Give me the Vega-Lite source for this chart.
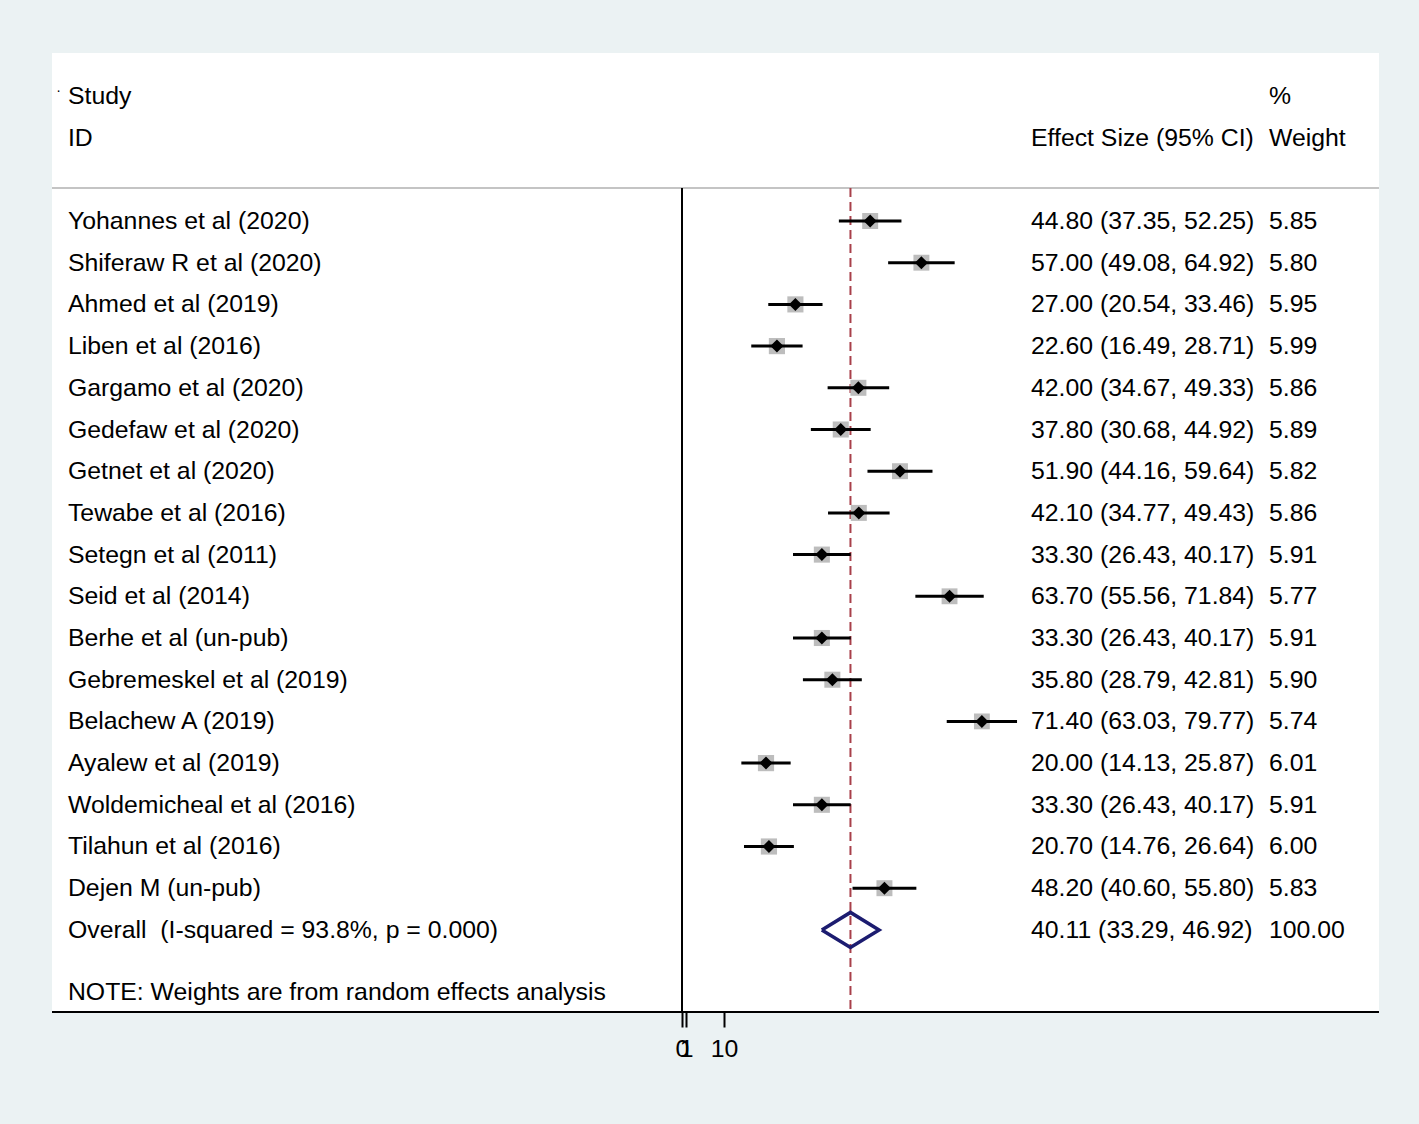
{
  "$schema": "https://vega.github.io/schema/vega-lite/v6.json",
  "width": 1419,
  "height": 1124,
  "autosize": {"type": "fit", "contains": "padding"},
  "padding": 0,
  "background": "#ebf2f3",
  "view": {"stroke": null},
  "config": {"text": {"font": "Liberation Sans", "fontSize": 24.8, "color": "#000000", "baseline": "middle", "align": "left", "dy": 1}},
  "datasets": {
    "studies": [
      {"row": 1, "study": "Yohannes et al (2020)", "es": 44.80, "lo": 37.35, "hi": 52.25, "weight": 5.85, "es_text": "44.80 (37.35, 52.25)", "w_text": "5.85"},
      {"row": 2, "study": "Shiferaw R et al (2020)", "es": 57.00, "lo": 49.08, "hi": 64.92, "weight": 5.80, "es_text": "57.00 (49.08, 64.92)", "w_text": "5.80"},
      {"row": 3, "study": "Ahmed et al (2019)", "es": 27.00, "lo": 20.54, "hi": 33.46, "weight": 5.95, "es_text": "27.00 (20.54, 33.46)", "w_text": "5.95"},
      {"row": 4, "study": "Liben et al (2016)", "es": 22.60, "lo": 16.49, "hi": 28.71, "weight": 5.99, "es_text": "22.60 (16.49, 28.71)", "w_text": "5.99"},
      {"row": 5, "study": "Gargamo et al (2020)", "es": 42.00, "lo": 34.67, "hi": 49.33, "weight": 5.86, "es_text": "42.00 (34.67, 49.33)", "w_text": "5.86"},
      {"row": 6, "study": "Gedefaw et al (2020)", "es": 37.80, "lo": 30.68, "hi": 44.92, "weight": 5.89, "es_text": "37.80 (30.68, 44.92)", "w_text": "5.89"},
      {"row": 7, "study": "Getnet et al (2020)", "es": 51.90, "lo": 44.16, "hi": 59.64, "weight": 5.82, "es_text": "51.90 (44.16, 59.64)", "w_text": "5.82"},
      {"row": 8, "study": "Tewabe et al (2016)", "es": 42.10, "lo": 34.77, "hi": 49.43, "weight": 5.86, "es_text": "42.10 (34.77, 49.43)", "w_text": "5.86"},
      {"row": 9, "study": "Setegn et al (2011)", "es": 33.30, "lo": 26.43, "hi": 40.17, "weight": 5.91, "es_text": "33.30 (26.43, 40.17)", "w_text": "5.91"},
      {"row": 10, "study": "Seid et al (2014)", "es": 63.70, "lo": 55.56, "hi": 71.84, "weight": 5.77, "es_text": "63.70 (55.56, 71.84)", "w_text": "5.77"},
      {"row": 11, "study": "Berhe et al (un-pub)", "es": 33.30, "lo": 26.43, "hi": 40.17, "weight": 5.91, "es_text": "33.30 (26.43, 40.17)", "w_text": "5.91"},
      {"row": 12, "study": "Gebremeskel et al (2019)", "es": 35.80, "lo": 28.79, "hi": 42.81, "weight": 5.90, "es_text": "35.80 (28.79, 42.81)", "w_text": "5.90"},
      {"row": 13, "study": "Belachew A (2019)", "es": 71.40, "lo": 63.03, "hi": 79.77, "weight": 5.74, "es_text": "71.40 (63.03, 79.77)", "w_text": "5.74"},
      {"row": 14, "study": "Ayalew et al (2019)", "es": 20.00, "lo": 14.13, "hi": 25.87, "weight": 6.01, "es_text": "20.00 (14.13, 25.87)", "w_text": "6.01"},
      {"row": 15, "study": "Woldemicheal et al (2016)", "es": 33.30, "lo": 26.43, "hi": 40.17, "weight": 5.91, "es_text": "33.30 (26.43, 40.17)", "w_text": "5.91"},
      {"row": 16, "study": "Tilahun et al (2016)", "es": 20.70, "lo": 14.76, "hi": 26.64, "weight": 6.00, "es_text": "20.70 (14.76, 26.64)", "w_text": "6.00"},
      {"row": 17, "study": "Dejen M (un-pub)", "es": 48.20, "lo": 40.60, "hi": 55.80, "weight": 5.83, "es_text": "48.20 (40.60, 55.80)", "w_text": "5.83"},
      {"row": 18, "study": "Overall\u00a0 (I-squared = 93.8%, p = 0.000)", "es_text": "40.11 (33.29, 46.92)", "w_text": "100.00"}
    ],
    "diamond": [
      {"x": 33.29, "y": 18, "o": 1},
      {"x": 40.11, "y": 17.58, "o": 2},
      {"x": 46.92, "y": 18, "o": 3},
      {"x": 40.11, "y": 18.42, "o": 4},
      {"x": 33.29, "y": 18, "o": 5}
    ],
    "headers": [
      {"col": -146.2, "row": -2, "label": "Study"},
      {"col": -146.2, "row": -1, "label": "ID"},
      {"col": 83.1, "row": -1, "label": "Effect Size (95% CI)"},
      {"col": 139.76, "row": -2, "label": "%"},
      {"col": 139.76, "row": -1, "label": "Weight"},
      {"col": -146.2, "row": 19.49, "label": "NOTE: Weights are from random effects analysis"}
    ]
  },
  "layer": [
    {
      "data": {"values": [{}]},
      "mark": {"type": "rect", "color": "#ffffff"},
      "encoding": {
        "x": {"datum": -150, "type": "quantitative",
              "scale": {"domain": [-162.381, 175.476], "nice": false, "zero": false},
              "axis": {"orient": "bottom", "offset": -112, "values": [0, 1, 10], "tickSize": 15, "tickWidth": 2, "tickColor": "#000000", "domain": false, "grid": false, "labelFontSize": 24.8, "labelFont": "Liberation Sans", "labelColor": "#000000", "labelPadding": 9, "title": null, "labelOverlap": false, "labelFlush": false}},
        "x2": {"datum": 165.95},
        "y": {"datum": -3.03, "type": "quantitative",
              "scale": {"domain": [-4.2998, 22.6547], "nice": false, "zero": false, "reverse": true},
              "axis": null},
        "y2": {"datum": 19.97}
      }
    },
    {
      "data": {"values": [{}]},
      "mark": {"type": "rule", "color": "#c4c4c4", "strokeWidth": 2},
      "encoding": {
        "x": {"datum": -150, "type": "quantitative"},
        "x2": {"datum": 165.95},
        "y": {"datum": 0.209, "type": "quantitative"}
      }
    },
    {
      "data": {"values": [{}]},
      "mark": {"type": "rule", "color": "#000000", "strokeWidth": 2},
      "encoding": {
        "x": {"datum": -150, "type": "quantitative"},
        "x2": {"datum": 165.95},
        "y": {"datum": 19.97, "type": "quantitative"}
      }
    },
    {
      "data": {"values": [{}]},
      "mark": {"type": "rule", "color": "#000000", "strokeWidth": 2},
      "encoding": {
        "x": {"datum": 0, "type": "quantitative"},
        "y": {"datum": 0.209, "type": "quantitative"},
        "y2": {"datum": 19.97}
      }
    },
    {
      "data": {"values": [{}]},
      "mark": {"type": "rule", "color": "#a8404a", "strokeWidth": 2, "strokeDash": [9, 5]},
      "encoding": {
        "x": {"datum": 40.11, "type": "quantitative"},
        "y": {"datum": 0.209, "type": "quantitative"},
        "y2": {"datum": 19.97}
      }
    },
    {
      "data": {"name": "studies"},
      "transform": [{"filter": "datum.row <= 17"}],
      "mark": {"type": "point", "shape": "square", "filled": true, "color": "#bdbdbd", "opacity": 1},
      "encoding": {
        "x": {"field": "es", "type": "quantitative"},
        "y": {"field": "row", "type": "quantitative"},
        "size": {"field": "weight", "type": "quantitative", "scale": {"type": "linear", "domain": [0, 6], "range": [0, 262], "zero": true}, "legend": null}
      }
    },
    {
      "data": {"name": "studies"},
      "transform": [{"filter": "datum.row <= 17"}],
      "mark": {"type": "rule", "color": "#000000", "strokeWidth": 3},
      "encoding": {
        "x": {"field": "lo", "type": "quantitative"},
        "x2": {"field": "hi"},
        "y": {"field": "row", "type": "quantitative"}
      }
    },
    {
      "data": {"name": "studies"},
      "transform": [{"filter": "datum.row <= 17"}],
      "mark": {"type": "point", "shape": "diamond", "filled": true, "color": "#000000", "opacity": 1, "size": 170},
      "encoding": {
        "x": {"field": "es", "type": "quantitative"},
        "y": {"field": "row", "type": "quantitative"}
      }
    },
    {
      "data": {"name": "diamond"},
      "mark": {"type": "line", "color": "#1c1c70", "strokeWidth": 3.5, "strokeJoin": "miter"},
      "encoding": {
        "x": {"field": "x", "type": "quantitative"},
        "y": {"field": "y", "type": "quantitative"},
        "order": {"field": "o", "type": "quantitative"}
      }
    },
    {
      "data": {"name": "studies"},
      "mark": {"type": "text"},
      "encoding": {
        "x": {"datum": -146.2, "type": "quantitative"},
        "y": {"field": "row", "type": "quantitative"},
        "text": {"field": "study"}
      }
    },
    {
      "data": {"name": "studies"},
      "mark": {"type": "text"},
      "encoding": {
        "x": {"datum": 83.1, "type": "quantitative"},
        "y": {"field": "row", "type": "quantitative"},
        "text": {"field": "es_text"}
      }
    },
    {
      "data": {"name": "studies"},
      "mark": {"type": "text"},
      "encoding": {
        "x": {"datum": 139.76, "type": "quantitative"},
        "y": {"field": "row", "type": "quantitative"},
        "text": {"field": "w_text"}
      }
    },
    {
      "data": {"name": "headers"},
      "mark": {"type": "text"},
      "encoding": {
        "x": {"field": "col", "type": "quantitative"},
        "y": {"field": "row", "type": "quantitative"},
        "text": {"field": "label"}
      }
    },
    {
      "data": {"values": [{"label": "·"}]},
      "mark": {"type": "text", "fontSize": 14},
      "encoding": {
        "x": {"datum": -149, "type": "quantitative"},
        "y": {"datum": -2.15, "type": "quantitative"},
        "text": {"field": "label"}
      }
    }
  ]
}
